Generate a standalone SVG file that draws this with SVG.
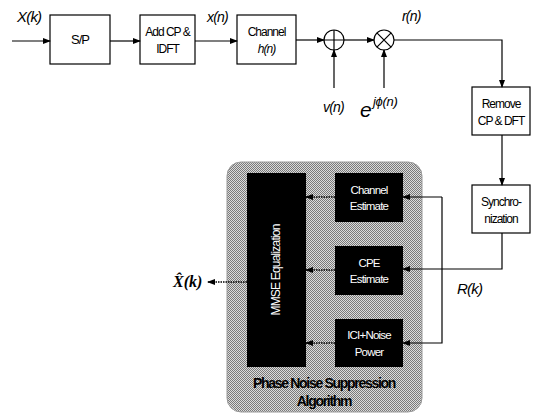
<svg xmlns="http://www.w3.org/2000/svg" width="537" height="414" viewBox="0 0 537 414">
<defs>
<marker id="ah" markerWidth="8" markerHeight="6" refX="7" refY="3" orient="auto" markerUnits="userSpaceOnUse">
<path d="M0,0 L8,3 L0,6 Z" fill="#000"/>
</marker>
<pattern id="dots" width="2" height="2" patternUnits="userSpaceOnUse">
<rect width="2" height="2" fill="#dcdcdc"/>
<rect x="0" y="0" width="1" height="1" fill="#7a7a7a"/>
<rect x="1" y="1" width="1" height="1" fill="#7a7a7a"/>
</pattern>
</defs>
<style>
.box{fill:#fff;stroke:#000;stroke-width:1.2}
.blk{fill:#000}
.t{font-family:"Liberation Sans",Arial,sans-serif;font-size:12px;letter-spacing:-1px;text-anchor:middle;fill:#000}
.w{font-family:"Liberation Sans",Arial,sans-serif;font-size:11.5px;letter-spacing:-0.8px;text-anchor:middle;fill:#fff}
.lab{font-family:"Liberation Sans",Arial,sans-serif;font-style:italic;font-size:14px;letter-spacing:-0.8px;fill:#000}
.ln{fill:none;stroke:#000;stroke-width:1.2}
.dl{fill:none;stroke:#000;stroke-width:1.6;stroke-dasharray:1.5 1}
</style>
<rect width="537" height="414" fill="#fff"/>

<g id="region">
<rect x="227" y="162" width="195" height="250" rx="14" fill="url(#dots)" stroke="#9a9a9a" stroke-width="1"/>
<text class="t" x="324" y="388" style="font-size:14px;font-weight:bold;letter-spacing:-1.3px">Phase Noise Suppression</text>
<text class="t" x="324" y="406" style="font-size:14px;font-weight:bold;letter-spacing:-1.3px">Algorithm</text>
</g>

<g id="sp"><rect class="box" x="50" y="15" width="60" height="49"/><text class="t" x="80" y="44" style="font-size:13px">S/P</text></g>
<g id="idft"><rect class="box" x="140" y="15" width="55" height="49"/><text class="t" x="167.5" y="36">Add CP &amp;</text><text class="t" x="167.5" y="53">IDFT</text></g>
<g id="channel"><rect class="box" x="237" y="15" width="59" height="49"/><text class="t" x="266.5" y="36">Channel</text><text class="t" x="266.5" y="53" style="font-style:italic">h(n)</text></g>
<g id="adder"><circle class="ln" cx="334" cy="40" r="10"/><path class="ln" d="M324,40 H344 M334,30 V50"/></g>
<g id="mult"><circle class="ln" cx="384" cy="40" r="10"/><path class="ln" d="M376.9,32.9 L391.1,47.1 M391.1,32.9 L376.9,47.1"/></g>
<g id="remove"><rect class="box" x="472" y="87" width="58" height="48"/><text class="t" x="501" y="108">Remove</text><text class="t" x="501" y="125">CP &amp; DFT</text></g>
<g id="sync"><rect class="box" x="472" y="185" width="58" height="48"/><text class="t" x="501" y="206">Synchro-</text><text class="t" x="501" y="223">nization</text></g>
<g id="mmse"><rect class="blk" x="247" y="173" width="59" height="194"/><text class="w" transform="translate(280,270) rotate(-90)" x="0" y="0" style="font-size:12px">MMSE Equalization</text></g>
<g id="chest"><rect class="blk" x="335" y="173" width="68" height="49"/><text class="w" x="369" y="194">Channel</text><text class="w" x="369" y="210">Estimate</text></g>
<g id="cpe"><rect class="blk" x="335" y="246" width="68" height="49"/><text class="w" x="369" y="267">CPE</text><text class="w" x="369" y="283">Estimate</text></g>
<g id="ici"><rect class="blk" x="335" y="319" width="68" height="48"/><text class="w" x="369" y="339">ICI+Noise</text><text class="w" x="369" y="356">Power</text></g>

<g id="connectors">
<path class="ln" d="M12,41 H50" marker-end="url(#ah)"/>
<path class="ln" d="M110,41 H140" marker-end="url(#ah)"/>
<path class="ln" d="M195,41 H237" marker-end="url(#ah)"/>
<path class="ln" d="M296,40 H324" marker-end="url(#ah)"/>
<path class="ln" d="M344,40 H374" marker-end="url(#ah)"/>
<path class="ln" d="M334,88 V50" marker-end="url(#ah)"/>
<path class="ln" d="M384,88 V50" marker-end="url(#ah)"/>
<path class="ln" d="M394,40 H502 V87" marker-end="url(#ah)"/>
<path class="ln" d="M502,135 V185" marker-end="url(#ah)"/>
<path class="ln" d="M502,233 V269 H403" marker-end="url(#ah)"/>
<path class="ln" d="M442,197 H403" marker-end="url(#ah)"/>
<path class="ln" d="M442,197 V343 H403" marker-end="url(#ah)"/>
<path class="dl" d="M335,197 H306" marker-end="url(#ah)"/>
<path class="dl" d="M335,270 H306" marker-end="url(#ah)"/>
<path class="dl" d="M335,343 H306" marker-end="url(#ah)"/>
<path class="dl" d="M247,282 H208" marker-end="url(#ah)"/>
</g>

<g id="labels">
<text class="lab" x="17" y="22" style="font-size:15px">X(k)</text>
<text class="lab" x="207" y="22">x(n)</text>
<text class="lab" x="402" y="21">r(n)</text>
<text class="lab" x="323" y="112">v(n)</text>
<text class="lab" x="360" y="117" style="font-size:21px;letter-spacing:0">e</text>
<text class="lab" x="373" y="106" style="font-size:13px;letter-spacing:-0.3px">jϕ(n)</text>
<text class="lab" x="457" y="294" style="font-size:15px">R(k)</text>
<text x="173" y="287" style="font-family:'Liberation Serif',serif;font-style:italic;font-weight:bold;font-size:16px">X̂(k)</text>
</g>
</svg>
